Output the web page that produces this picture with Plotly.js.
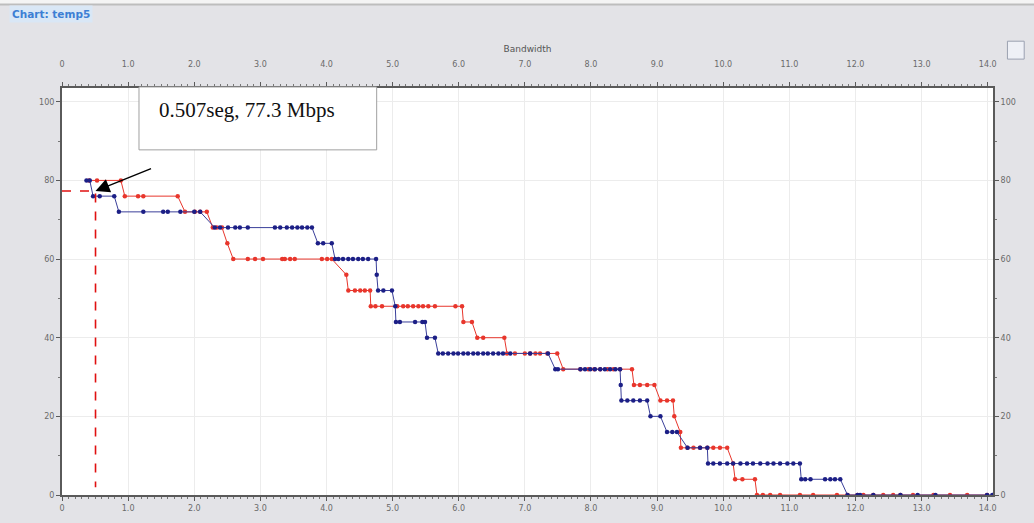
<!DOCTYPE html>
<html>
<head>
<meta charset="utf-8">
<script src="https://cdn.plot.ly/plotly-3.0.1.min.js"></script>
<style>html,body{margin:0;padding:0;background:#fff;}#chart{width:1034px;height:523px;}</style>
</head>
<body>
<div id="chart"></div>
<script>
// ---- data ----
const chartTitle = "Chart: temp5";
const xAxisTitle = "Bandwidth";
const xTickVals = [0,1,2,3,4,5,6,7,8,9,10,11,12,13,14];
const xTickText = ["0","1.0","2.0","3.0","4.0","5.0","6.0","7.0","8.0","9.0","10.0","11.0","12.0","13.0","14.0"];
const yTickVals = [0,20,40,60,80,100];
const yTickText = ["0","20","40","60","80","100"];

const blueX = [0.37,0.42,
  0.47,0.57,0.79,
  0.86,1.23,1.53,1.60,1.79,2.00,2.09,
  2.31,2.39,2.51,2.62,2.69,2.81,3.22,3.30,3.40,3.48,3.56,3.63,3.71,3.78,
  3.87,3.95,4.08,
  4.13,4.18,4.25,4.33,4.40,4.48,4.55,4.63,4.75,
  4.76,
  4.78,4.86,4.99,
  5.04,
  5.05,5.11,5.34,5.45,5.49,
  5.52,5.64,
  5.69,5.76,5.84,5.92,5.99,6.07,6.14,6.22,6.29,6.37,6.44,6.52,6.60,6.67,6.78,7.08,7.35,
  7.46,7.50,7.84,7.91,7.99,8.06,8.14,8.21,8.29,8.37,8.44,
  8.45,
  8.46,8.55,8.64,8.74,8.85,
  8.90,9.05,
  9.15,9.23,9.30,
  9.46,9.65,9.76,
  9.77,9.85,9.95,10.06,10.15,10.26,10.36,10.45,10.56,10.67,10.76,10.86,10.97,11.06,11.16,
  11.18,11.24,11.32,11.54,11.62,11.69,11.77,
  11.88,12.03,12.07,12.27,12.68,12.94,13.21,13.99,14.07];
const blueY = [80,80,
  76,76,76,
  72,72,72,72,72,72,72,
  68,68,68,68,68,68,68,68,68,68,68,68,68,68,
  64,64,64,
  60,60,60,60,60,60,60,60,60,
  56,
  52,52,52,
  48,
  44,44,44,44,44,
  40,40,
  36,36,36,36,36,36,36,36,36,36,36,36,36,36,36,36,36,
  32,32,32,32,32,32,32,32,32,32,32,
  28,
  24,24,24,24,24,
  20,20,
  16,16,16,
  12,12,12,
  8,8,8,8,8,8,8,8,8,8,8,8,8,8,8,
  4,4,4,4,4,4,4,
  0,0,0,0,0,0,0,0,0];

const redX = [0.41,0.53,0.89,
  0.95,1.15,1.23,1.75,
  1.86,2.01,2.09,2.19,
  2.28,2.34,2.42,
  2.50,
  2.59,2.81,2.92,3.04,3.33,3.37,3.45,3.52,3.93,4.01,4.08,
  4.30,
  4.33,4.43,4.51,4.58,4.66,
  4.67,4.74,4.84,5.07,5.16,5.23,5.31,5.39,5.46,5.54,5.64,5.95,6.05,
  6.07,6.20,
  6.28,6.37,6.69,
  6.73,6.85,7.00,7.08,7.16,7.23,7.34,7.49,
  7.58,7.84,7.96,8.05,8.14,8.25,8.34,8.44,8.62,
  8.65,8.74,8.85,8.96,
  9.05,9.15,9.24,
  9.26,
  9.35,
  9.36,9.46,9.55,9.65,9.76,9.85,9.95,10.06,
  10.15,
  10.18,10.29,10.48,
  10.51,10.60,10.71,10.86,11.16,11.36,11.72,11.88,12.03,12.12,12.27,12.42,12.57,12.68,12.87,13.18,13.43,13.69,13.99];
const redY = [80,80,80,
  76,76,76,76,
  72,72,72,72,
  68,68,68,
  64,
  60,60,60,60,60,60,60,60,60,60,60,
  56,
  52,52,52,52,52,
  48,48,48,48,48,48,48,48,48,48,48,48,48,
  44,44,
  40,40,40,
  36,36,36,36,36,36,36,36,
  32,32,32,32,32,32,32,32,32,
  28,28,28,28,
  24,24,24,
  20,
  16,
  12,12,12,12,12,12,12,12,
  8,
  4,4,4,
  0,0,0,0,0,0,0,0,0,0,0,0,0,0,0,0,0,0,0];

// annotated point
const noteX = 0.507;
const noteY = 77.3;
const noteText = "0.507seg, 77.3 Mbps";
const guideX = [0, noteX, noteX];
const guideY = [noteY, noteY, 2];

// ---- plot ----
const axisCommon = {
  showline: true, linecolor: '#5a5a5a', linewidth: 2,
  ticks: 'outside', ticklen: 4, tickcolor: '#5a5a5a', tickwidth: 1,
  tickfont: {family: 'DejaVu Sans', size: 8, color: '#6a6a6a'},
  zeroline: false, fixedrange: true
};

const traces = [
  {x: redX, y: redY, type: 'scatter', mode: 'lines+markers', name: 'red',
   line: {color: '#e8362c', width: 1}, marker: {color: '#e8362c', size: 4.5}},
  {x: blueX, y: blueY, type: 'scatter', mode: 'lines+markers', name: 'blue',
   line: {color: '#3a3f9a', width: 1}, marker: {color: '#1c1f86', size: 4.5}},
  {x: guideX, y: guideY, type: 'scatter', mode: 'lines', name: 'guide',
   line: {color: '#e01010', width: 1.6, dash: 'dash'}},
  {x: [], y: [], type: 'scatter', xaxis: 'x2', yaxis: 'y2', showlegend: false, hoverinfo: 'skip'}
];

const layout = {
  width: 1034, height: 523,
  margin: {l: 62, r: 41, t: 88, b: 28},
  paper_bgcolor: '#e3e3e7',
  plot_bgcolor: '#ffffff',
  showlegend: false,
  xaxis: Object.assign({}, axisCommon, {
    range: [0, 14.08], tickmode: 'array', tickvals: xTickVals, ticktext: xTickText,
    showgrid: true, gridcolor: '#ececec', gridwidth: 1,
    minor: {dtick: 0.1, tick0: 0, ticks: 'outside', ticklen: 2, tickcolor: '#777', showgrid: false}
  }),
  xaxis2: Object.assign({}, axisCommon, {
    overlaying: 'x', side: 'top', anchor: 'y',
    range: [0, 14.08], tickmode: 'array', tickvals: xTickVals, ticktext: xTickText,
    showgrid: false, ticklabelstandoff: 12,
    minor: {dtick: 0.1, tick0: 0, ticks: 'outside', ticklen: 2, tickcolor: '#777', showgrid: false},
    title: {text: xAxisTitle, font: {family: 'DejaVu Sans', size: 9, color: '#555'}, standoff: 6}
  }),
  yaxis: Object.assign({}, axisCommon, {
    range: [0, 103.5], tickmode: 'array', tickvals: yTickVals, ticktext: yTickText,
    showgrid: true, gridcolor: '#ececec', gridwidth: 1,
    minor: {dtick: 10, tick0: 0, ticks: 'outside', ticklen: 2, tickcolor: '#777', showgrid: false}
  }),
  yaxis2: Object.assign({}, axisCommon, {
    overlaying: 'y', side: 'right', anchor: 'x',
    range: [0, 103.5], tickmode: 'array', tickvals: yTickVals, ticktext: yTickText,
    showgrid: false,
    minor: {dtick: 10, tick0: 0, ticks: 'outside', ticklen: 2, tickcolor: '#777', showgrid: false}
  }),
  shapes: [
    // note box
    {type: 'rect', xref: 'paper', yref: 'paper', x0: 0.0827, x1: 0.338, y0: 0.848, y1: 1.0025,
     fillcolor: '#ffffff', line: {color: '#a0a0a0', width: 1}, layer: 'above'},
    // top white strip and border
    {type: 'rect', xref: 'paper', yref: 'paper', x0: -0.07, x1: 1.05, y0: 1.205, y1: 1.25,
     fillcolor: '#f4f4f4', line: {width: 0}, layer: 'above'},
    {type: 'line', xref: 'paper', yref: 'paper', x0: -0.07, x1: 1.05, y0: 1.205, y1: 1.205,
     line: {color: '#bdbdbd', width: 2}, layer: 'above'},
    // icon at top right
    {type: 'rect', xref: 'paper', yref: 'paper', x0: 1.0155, x1: 1.0335, y0: 1.071, y1: 1.115,
     fillcolor: '#eef0f6', line: {color: '#9aa0b0', width: 1}, layer: 'above'}
  ],
  annotations: [
    {xref: 'paper', yref: 'paper', x: -0.057, y: 1.183, xanchor: 'left', yanchor: 'middle',
     text: '<b>' + chartTitle + '</b>', showarrow: false,
     font: {family: 'DejaVu Sans', size: 10.5, color: '#3d7fd4'}, bgcolor: '#d9e7f6', borderpad: 2},
    {xref: 'paper', yref: 'paper', x: 0.1025, y: 0.945, xanchor: 'left', yanchor: 'middle',
     text: noteText, showarrow: false,
     font: {family: 'Liberation Serif', size: 21, color: '#111'}},
    {x: noteX, y: noteY, xref: 'x', yref: 'y', text: '', showarrow: true,
     ax: 57, ay: -23, arrowhead: 2, arrowsize: 2, arrowwidth: 1.4, arrowcolor: '#000'}
  ]
};

Plotly.newPlot('chart', traces, layout, {displayModeBar: false, staticPlot: true});
</script>
</body>
</html>
